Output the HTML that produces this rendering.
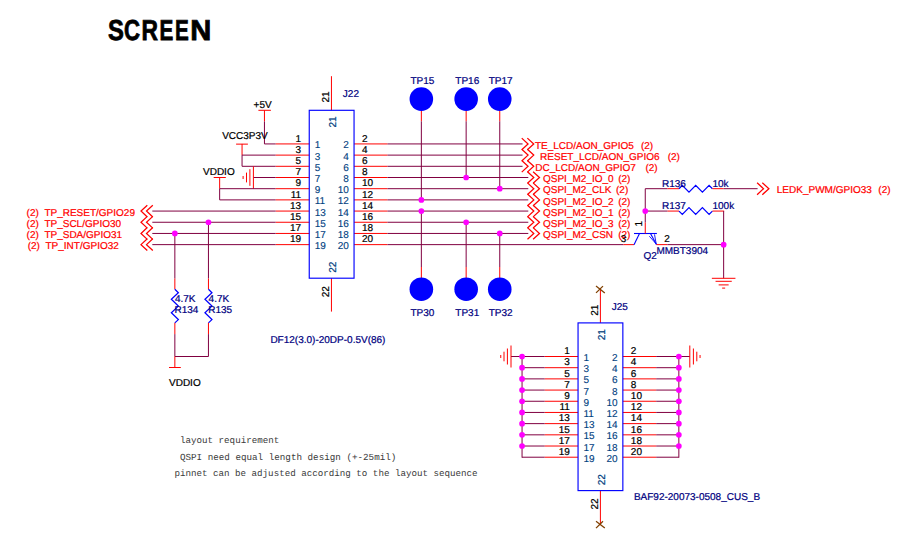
<!DOCTYPE html>
<html><head><meta charset="utf-8"><title>SCREEN schematic</title>
<style>
html,body{margin:0;padding:0;background:#fff;}
body{width:902px;height:549px;overflow:hidden;font-family:"Liberation Sans",sans-serif;}
svg{display:block;}
svg text{font-family:"Liberation Sans",sans-serif;font-size:10px;white-space:pre;text-rendering:geometricPrecision;}
</style></head>
<body>
<svg width="902" height="549" viewBox="0 0 902 549">
<rect width="902" height="549" fill="#ffffff"/>
<line x1="275.65" y1="143.93" x2="309.25" y2="143.93" stroke="#ff0000" stroke-width="1.0"/>
<line x1="275.65" y1="155.12" x2="309.25" y2="155.12" stroke="#ff0000" stroke-width="1.0"/>
<line x1="275.65" y1="166.31" x2="309.25" y2="166.31" stroke="#ff0000" stroke-width="1.0"/>
<line x1="275.65" y1="177.50" x2="309.25" y2="177.50" stroke="#ff0000" stroke-width="1.0"/>
<line x1="275.65" y1="188.69" x2="309.25" y2="188.69" stroke="#ff0000" stroke-width="1.0"/>
<line x1="275.65" y1="199.88" x2="309.25" y2="199.88" stroke="#ff0000" stroke-width="1.0"/>
<line x1="275.65" y1="211.07" x2="309.25" y2="211.07" stroke="#ff0000" stroke-width="1.0"/>
<line x1="275.65" y1="222.26" x2="309.25" y2="222.26" stroke="#ff0000" stroke-width="1.0"/>
<line x1="275.65" y1="233.45" x2="309.25" y2="233.45" stroke="#ff0000" stroke-width="1.0"/>
<line x1="275.65" y1="244.64" x2="309.25" y2="244.64" stroke="#ff0000" stroke-width="1.0"/>
<line x1="354.05" y1="143.93" x2="387.50" y2="143.93" stroke="#ff0000" stroke-width="1.0"/>
<line x1="354.05" y1="155.12" x2="387.50" y2="155.12" stroke="#ff0000" stroke-width="1.0"/>
<line x1="354.05" y1="166.31" x2="387.50" y2="166.31" stroke="#ff0000" stroke-width="1.0"/>
<line x1="354.05" y1="177.50" x2="387.50" y2="177.50" stroke="#ff0000" stroke-width="1.0"/>
<line x1="354.05" y1="188.69" x2="387.50" y2="188.69" stroke="#ff0000" stroke-width="1.0"/>
<line x1="354.05" y1="199.88" x2="387.50" y2="199.88" stroke="#ff0000" stroke-width="1.0"/>
<line x1="354.05" y1="211.07" x2="387.50" y2="211.07" stroke="#ff0000" stroke-width="1.0"/>
<line x1="354.05" y1="222.26" x2="387.50" y2="222.26" stroke="#ff0000" stroke-width="1.0"/>
<line x1="354.05" y1="233.45" x2="387.50" y2="233.45" stroke="#ff0000" stroke-width="1.0"/>
<line x1="354.05" y1="244.64" x2="387.50" y2="244.64" stroke="#ff0000" stroke-width="1.0"/>
<line x1="258.40" y1="110.30" x2="270.90" y2="110.30" stroke="#ff0000" stroke-width="1.0"/>
<line x1="264.45" y1="110.30" x2="264.45" y2="121.40" stroke="#ff0000" stroke-width="1.0"/>
<polyline points="264.45,121.40 264.45,143.93 275.65,143.93" fill="none" stroke="#800040" stroke-width="1.0" stroke-linejoin="miter"/>
<text x="253.60" y="107.70" fill="#000" stroke="#000" stroke-width="0.22" text-anchor="start" >+5V</text>
<line x1="236.10" y1="144.13" x2="247.90" y2="144.13" stroke="#ff0000" stroke-width="1.0"/>
<line x1="242.05" y1="143.93" x2="242.05" y2="155.12" stroke="#ff0000" stroke-width="1.0"/>
<line x1="242.05" y1="155.12" x2="242.05" y2="166.31" stroke="#800040" stroke-width="1.0"/>
<line x1="242.05" y1="155.12" x2="275.65" y2="155.12" stroke="#800040" stroke-width="1.0"/>
<line x1="242.05" y1="166.31" x2="275.65" y2="166.31" stroke="#800040" stroke-width="1.0"/>
<text x="222.20" y="139.40" fill="#000" stroke="#000" stroke-width="0.22" text-anchor="start" >VCC3P3V</text>
<line x1="253.40" y1="177.50" x2="275.65" y2="177.50" stroke="#800040" stroke-width="1.0"/>
<line x1="253.40" y1="166.40" x2="253.40" y2="188.60" stroke="#ff0000" stroke-width="1.0"/>
<line x1="249.90" y1="169.20" x2="249.90" y2="185.80" stroke="#ff0000" stroke-width="1.0"/>
<line x1="246.50" y1="172.60" x2="246.50" y2="182.40" stroke="#ff0000" stroke-width="1.0"/>
<line x1="243.10" y1="176.00" x2="243.10" y2="179.00" stroke="#ff0000" stroke-width="1.0"/>
<line x1="213.70" y1="177.50" x2="225.80" y2="177.50" stroke="#ff0000" stroke-width="1.0"/>
<line x1="219.65" y1="177.50" x2="219.65" y2="188.69" stroke="#ff0000" stroke-width="1.0"/>
<line x1="219.65" y1="188.69" x2="219.65" y2="199.88" stroke="#800040" stroke-width="1.0"/>
<line x1="219.65" y1="188.69" x2="275.65" y2="188.69" stroke="#800040" stroke-width="1.0"/>
<line x1="219.65" y1="199.88" x2="275.65" y2="199.88" stroke="#800040" stroke-width="1.0"/>
<text x="203.00" y="174.85" fill="#000" stroke="#000" stroke-width="0.22" text-anchor="start" >VDDIO</text>
<line x1="152.30" y1="211.07" x2="275.65" y2="211.07" stroke="#800040" stroke-width="1.0"/>
<polyline points="147.30,205.17 141.00,211.07 147.30,216.97" fill="none" stroke="#ff0000" stroke-width="1.25" stroke-linejoin="miter"/>
<polyline points="152.80,205.17 146.50,211.07 152.80,216.97" fill="none" stroke="#ff0000" stroke-width="1.25" stroke-linejoin="miter"/>
<text x="26.60" y="215.55" fill="#ff0000" stroke="#ff0000" stroke-width="0.22" text-anchor="start" >(2)</text>
<text x="44.38" y="215.55" fill="#ff0000" stroke="#ff0000" stroke-width="0.22" text-anchor="start" >TP_RESET/GPIO29</text>
<line x1="152.30" y1="222.26" x2="275.65" y2="222.26" stroke="#800040" stroke-width="1.0"/>
<polyline points="147.30,216.36 141.00,222.26 147.30,228.16" fill="none" stroke="#ff0000" stroke-width="1.25" stroke-linejoin="miter"/>
<polyline points="152.80,216.36 146.50,222.26 152.80,228.16" fill="none" stroke="#ff0000" stroke-width="1.25" stroke-linejoin="miter"/>
<text x="26.60" y="226.55" fill="#ff0000" stroke="#ff0000" stroke-width="0.22" text-anchor="start" >(2)</text>
<text x="44.38" y="226.55" fill="#ff0000" stroke="#ff0000" stroke-width="0.22" text-anchor="start" >TP_SCL/GPIO30</text>
<line x1="152.30" y1="233.45" x2="275.65" y2="233.45" stroke="#800040" stroke-width="1.0"/>
<polyline points="147.30,227.55 141.00,233.45 147.30,239.35" fill="none" stroke="#ff0000" stroke-width="1.25" stroke-linejoin="miter"/>
<polyline points="152.80,227.55 146.50,233.45 152.80,239.35" fill="none" stroke="#ff0000" stroke-width="1.25" stroke-linejoin="miter"/>
<text x="26.60" y="237.55" fill="#ff0000" stroke="#ff0000" stroke-width="0.22" text-anchor="start" >(2)</text>
<text x="44.38" y="237.55" fill="#ff0000" stroke="#ff0000" stroke-width="0.22" text-anchor="start" >TP_SDA/GPIO31</text>
<line x1="152.30" y1="244.64" x2="275.65" y2="244.64" stroke="#800040" stroke-width="1.0"/>
<polyline points="147.30,238.74 141.00,244.64 147.30,250.54" fill="none" stroke="#ff0000" stroke-width="1.25" stroke-linejoin="miter"/>
<polyline points="152.80,238.74 146.50,244.64 152.80,250.54" fill="none" stroke="#ff0000" stroke-width="1.25" stroke-linejoin="miter"/>
<text x="27.70" y="248.55" fill="#ff0000" stroke="#ff0000" stroke-width="0.22" text-anchor="start" >(2)</text>
<text x="45.48" y="248.55" fill="#ff0000" stroke="#ff0000" stroke-width="0.22" text-anchor="start" >TP_INT/GPIO32</text>
<line x1="174.85" y1="233.45" x2="174.85" y2="278.50" stroke="#800040" stroke-width="1.0"/>
<line x1="174.85" y1="278.50" x2="174.85" y2="289.30" stroke="#ff0000" stroke-width="1.0"/>
<polyline points="174.85,289.30 178.35,292.70 171.35,299.30 178.35,306.10 171.35,312.80 178.35,319.60 174.85,322.90" fill="none" stroke="#0000ff" stroke-width="1.25" stroke-linejoin="miter"/>
<line x1="174.85" y1="322.90" x2="174.85" y2="334.10" stroke="#ff0000" stroke-width="1.0"/>
<line x1="174.85" y1="334.10" x2="174.85" y2="356.50" stroke="#800040" stroke-width="1.0"/>
<line x1="208.45" y1="222.26" x2="208.45" y2="278.50" stroke="#800040" stroke-width="1.0"/>
<line x1="208.45" y1="278.50" x2="208.45" y2="289.30" stroke="#ff0000" stroke-width="1.0"/>
<polyline points="208.45,289.30 211.95,292.70 204.95,299.30 211.95,306.10 204.95,312.80 211.95,319.60 208.45,322.90" fill="none" stroke="#0000ff" stroke-width="1.25" stroke-linejoin="miter"/>
<line x1="208.45" y1="322.90" x2="208.45" y2="334.10" stroke="#ff0000" stroke-width="1.0"/>
<line x1="208.45" y1="334.10" x2="208.45" y2="356.50" stroke="#800040" stroke-width="1.0"/>
<line x1="174.85" y1="356.50" x2="208.45" y2="356.50" stroke="#800040" stroke-width="1.0"/>
<line x1="174.85" y1="356.50" x2="174.85" y2="367.50" stroke="#ff0000" stroke-width="1.0"/>
<line x1="169.00" y1="367.50" x2="180.80" y2="367.50" stroke="#ff0000" stroke-width="1.0"/>
<text x="169.00" y="386.00" fill="#000" stroke="#000" stroke-width="0.22" text-anchor="start" >VDDIO</text>
<text x="174.90" y="301.80" fill="#000080" stroke="#000080" stroke-width="0.22" text-anchor="start" >4.7K</text>
<text x="174.50" y="312.90" fill="#000080" stroke="#000080" stroke-width="0.22" text-anchor="start" >R134</text>
<text x="208.60" y="301.80" fill="#000080" stroke="#000080" stroke-width="0.22" text-anchor="start" >4.7K</text>
<text x="208.20" y="312.90" fill="#000080" stroke="#000080" stroke-width="0.22" text-anchor="start" >R135</text>
<line x1="387.50" y1="143.93" x2="522.55" y2="143.93" stroke="#800040" stroke-width="1.0"/>
<polyline points="521.75,138.13 528.05,143.93 521.75,149.73" fill="none" stroke="#ff0000" stroke-width="1.25" stroke-linejoin="miter"/>
<polyline points="527.35,138.13 533.75,143.93 527.35,149.73" fill="none" stroke="#ff0000" stroke-width="1.25" stroke-linejoin="miter"/>
<text x="534.90" y="148.55" fill="#ff0000" stroke="#ff0000" stroke-width="0.22" text-anchor="start" >TE_LCD/AON_GPIO5</text>
<text x="640.90" y="148.55" fill="#ff0000" stroke="#ff0000" stroke-width="0.22" text-anchor="start" >(2)</text>
<line x1="387.50" y1="155.12" x2="522.55" y2="155.12" stroke="#800040" stroke-width="1.0"/>
<polyline points="521.75,149.32 528.05,155.12 521.75,160.92" fill="none" stroke="#ff0000" stroke-width="1.25" stroke-linejoin="miter"/>
<polyline points="527.35,149.32 533.75,155.12 527.35,160.92" fill="none" stroke="#ff0000" stroke-width="1.25" stroke-linejoin="miter"/>
<text x="540.10" y="159.55" fill="#ff0000" stroke="#ff0000" stroke-width="0.22" text-anchor="start" >RESET_LCD/AON_GPIO6</text>
<text x="667.70" y="159.55" fill="#ff0000" stroke="#ff0000" stroke-width="0.22" text-anchor="start" >(2)</text>
<line x1="387.50" y1="166.31" x2="522.55" y2="166.31" stroke="#800040" stroke-width="1.0"/>
<polyline points="521.75,160.51 528.05,166.31 521.75,172.11" fill="none" stroke="#ff0000" stroke-width="1.25" stroke-linejoin="miter"/>
<polyline points="527.35,160.51 533.75,166.31 527.35,172.11" fill="none" stroke="#ff0000" stroke-width="1.25" stroke-linejoin="miter"/>
<text x="535.20" y="170.55" fill="#ff0000" stroke="#ff0000" stroke-width="0.22" text-anchor="start" >DC_LCD/AON_GPIO7</text>
<text x="645.40" y="170.55" fill="#ff0000" stroke="#ff0000" stroke-width="0.22" text-anchor="start" >(2)</text>
<line x1="387.50" y1="177.50" x2="528.30" y2="177.50" stroke="#800040" stroke-width="1.0"/>
<polyline points="527.50,171.70 533.80,177.50 527.50,183.30" fill="none" stroke="#ff0000" stroke-width="1.25" stroke-linejoin="miter"/>
<polyline points="533.10,171.70 539.50,177.50 533.10,183.30" fill="none" stroke="#ff0000" stroke-width="1.25" stroke-linejoin="miter"/>
<text x="543.00" y="181.55" fill="#ff0000" stroke="#ff0000" stroke-width="0.22" text-anchor="start" >QSPI_M2_IO_0</text>
<text x="618.20" y="181.55" fill="#ff0000" stroke="#ff0000" stroke-width="0.22" text-anchor="start" >(2)</text>
<line x1="387.50" y1="188.69" x2="528.30" y2="188.69" stroke="#800040" stroke-width="1.0"/>
<polyline points="527.50,182.89 533.80,188.69 527.50,194.49" fill="none" stroke="#ff0000" stroke-width="1.25" stroke-linejoin="miter"/>
<polyline points="533.10,182.89 539.50,188.69 533.10,194.49" fill="none" stroke="#ff0000" stroke-width="1.25" stroke-linejoin="miter"/>
<text x="543.00" y="192.55" fill="#ff0000" stroke="#ff0000" stroke-width="0.22" text-anchor="start" >QSPI_M2_CLK</text>
<text x="616.00" y="192.55" fill="#ff0000" stroke="#ff0000" stroke-width="0.22" text-anchor="start" >(2)</text>
<line x1="387.50" y1="199.88" x2="528.30" y2="199.88" stroke="#800040" stroke-width="1.0"/>
<polyline points="527.50,194.08 533.80,199.88 527.50,205.68" fill="none" stroke="#ff0000" stroke-width="1.25" stroke-linejoin="miter"/>
<polyline points="533.10,194.08 539.50,199.88 533.10,205.68" fill="none" stroke="#ff0000" stroke-width="1.25" stroke-linejoin="miter"/>
<text x="543.00" y="204.55" fill="#ff0000" stroke="#ff0000" stroke-width="0.22" text-anchor="start" >QSPI_M2_IO_2</text>
<text x="618.20" y="204.55" fill="#ff0000" stroke="#ff0000" stroke-width="0.22" text-anchor="start" >(2)</text>
<line x1="387.50" y1="211.07" x2="528.30" y2="211.07" stroke="#800040" stroke-width="1.0"/>
<polyline points="527.50,205.27 533.80,211.07 527.50,216.87" fill="none" stroke="#ff0000" stroke-width="1.25" stroke-linejoin="miter"/>
<polyline points="533.10,205.27 539.50,211.07 533.10,216.87" fill="none" stroke="#ff0000" stroke-width="1.25" stroke-linejoin="miter"/>
<text x="543.00" y="215.55" fill="#ff0000" stroke="#ff0000" stroke-width="0.22" text-anchor="start" >QSPI_M2_IO_1</text>
<text x="618.20" y="215.55" fill="#ff0000" stroke="#ff0000" stroke-width="0.22" text-anchor="start" >(2)</text>
<line x1="387.50" y1="222.26" x2="528.30" y2="222.26" stroke="#800040" stroke-width="1.0"/>
<polyline points="527.50,216.46 533.80,222.26 527.50,228.06" fill="none" stroke="#ff0000" stroke-width="1.25" stroke-linejoin="miter"/>
<polyline points="533.10,216.46 539.50,222.26 533.10,228.06" fill="none" stroke="#ff0000" stroke-width="1.25" stroke-linejoin="miter"/>
<text x="543.00" y="226.55" fill="#ff0000" stroke="#ff0000" stroke-width="0.22" text-anchor="start" >QSPI_M2_IO_3</text>
<text x="618.20" y="226.55" fill="#ff0000" stroke="#ff0000" stroke-width="0.22" text-anchor="start" >(2)</text>
<line x1="387.50" y1="233.45" x2="528.30" y2="233.45" stroke="#800040" stroke-width="1.0"/>
<polyline points="527.50,227.65 533.80,233.45 527.50,239.25" fill="none" stroke="#ff0000" stroke-width="1.25" stroke-linejoin="miter"/>
<polyline points="533.10,227.65 539.50,233.45 533.10,239.25" fill="none" stroke="#ff0000" stroke-width="1.25" stroke-linejoin="miter"/>
<text x="543.00" y="237.55" fill="#ff0000" stroke="#ff0000" stroke-width="0.22" text-anchor="start" >QSPI_M2_CSN</text>
<text x="618.20" y="237.55" fill="#ff0000" stroke="#ff0000" stroke-width="0.22" text-anchor="start" >(2)</text>
<line x1="421.35" y1="110.50" x2="421.35" y2="121.30" stroke="#ff0000" stroke-width="1.0"/>
<line x1="421.35" y1="121.30" x2="421.35" y2="199.88" stroke="#800040" stroke-width="1.0"/>
<line x1="421.35" y1="211.07" x2="421.35" y2="267.00" stroke="#800040" stroke-width="1.0"/>
<line x1="421.35" y1="267.00" x2="421.35" y2="278.00" stroke="#ff0000" stroke-width="1.0"/>
<circle cx="421.35" cy="99.1" r="11.8" fill="#0000ff"/>
<circle cx="421.35" cy="289.2" r="11.8" fill="#0000ff"/>
<text x="410.40" y="83.60" fill="#000080" stroke="#000080" stroke-width="0.22" text-anchor="start" >TP15</text>
<text x="410.40" y="315.80" fill="#000080" stroke="#000080" stroke-width="0.22" text-anchor="start" >TP30</text>
<line x1="466.15" y1="110.50" x2="466.15" y2="121.30" stroke="#ff0000" stroke-width="1.0"/>
<line x1="466.15" y1="121.30" x2="466.15" y2="177.50" stroke="#800040" stroke-width="1.0"/>
<line x1="466.15" y1="222.26" x2="466.15" y2="267.00" stroke="#800040" stroke-width="1.0"/>
<line x1="466.15" y1="267.00" x2="466.15" y2="278.00" stroke="#ff0000" stroke-width="1.0"/>
<circle cx="466.15" cy="99.1" r="11.8" fill="#0000ff"/>
<circle cx="466.15" cy="289.2" r="11.8" fill="#0000ff"/>
<text x="455.30" y="83.60" fill="#000080" stroke="#000080" stroke-width="0.22" text-anchor="start" >TP16</text>
<text x="455.30" y="315.80" fill="#000080" stroke="#000080" stroke-width="0.22" text-anchor="start" >TP31</text>
<line x1="499.75" y1="110.50" x2="499.75" y2="121.30" stroke="#ff0000" stroke-width="1.0"/>
<line x1="499.75" y1="121.30" x2="499.75" y2="188.69" stroke="#800040" stroke-width="1.0"/>
<line x1="499.75" y1="233.45" x2="499.75" y2="267.00" stroke="#800040" stroke-width="1.0"/>
<line x1="499.75" y1="267.00" x2="499.75" y2="278.00" stroke="#ff0000" stroke-width="1.0"/>
<circle cx="499.75" cy="99.1" r="11.8" fill="#0000ff"/>
<circle cx="499.75" cy="289.2" r="11.8" fill="#0000ff"/>
<text x="488.70" y="83.60" fill="#000080" stroke="#000080" stroke-width="0.22" text-anchor="start" >TP17</text>
<text x="488.70" y="315.80" fill="#000080" stroke="#000080" stroke-width="0.22" text-anchor="start" >TP32</text>
<line x1="387.50" y1="244.64" x2="623.50" y2="244.64" stroke="#800040" stroke-width="1.0"/>
<line x1="623.50" y1="244.64" x2="634.00" y2="244.64" stroke="#ff0000" stroke-width="1.0"/>
<line x1="634.00" y1="233.50" x2="656.90" y2="233.50" stroke="#0000ff" stroke-width="1.1"/>
<line x1="639.50" y1="233.50" x2="634.00" y2="244.64" stroke="#0000ff" stroke-width="1.1"/>
<line x1="650.50" y1="233.50" x2="656.50" y2="244.64" stroke="#0000ff" stroke-width="1.1"/>
<polyline points="649.30,236.20 656.20,243.90 654.50,234.40" fill="none" stroke="#0000ff" stroke-width="0.9" stroke-linejoin="miter"/>
<line x1="656.40" y1="244.64" x2="667.40" y2="244.64" stroke="#ff0000" stroke-width="1.0"/>
<line x1="667.40" y1="244.64" x2="723.65" y2="244.64" stroke="#800040" stroke-width="1.0"/>
<line x1="645.25" y1="222.40" x2="645.25" y2="233.50" stroke="#ff0000" stroke-width="1.0"/>
<polyline points="645.25,222.40 645.25,188.69 667.50,188.69" fill="none" stroke="#800040" stroke-width="1.0" stroke-linejoin="miter"/>
<line x1="645.25" y1="211.07" x2="667.50" y2="211.07" stroke="#800040" stroke-width="1.0"/>
<line x1="667.50" y1="188.69" x2="679.00" y2="188.69" stroke="#ff0000" stroke-width="1.0"/>
<polyline points="679.00,188.69 682.30,185.39 689.00,192.19 695.70,185.39 702.40,192.19 709.10,185.39 712.40,188.69" fill="none" stroke="#0000ff" stroke-width="1.25" stroke-linejoin="miter"/>
<line x1="712.40" y1="188.69" x2="723.65" y2="188.69" stroke="#ff0000" stroke-width="1.0"/>
<line x1="723.65" y1="188.69" x2="757.60" y2="188.69" stroke="#800040" stroke-width="1.0"/>
<polyline points="757.10,182.69 763.50,188.69 757.10,194.69" fill="none" stroke="#ff0000" stroke-width="1.25" stroke-linejoin="miter"/>
<polyline points="762.30,182.69 768.90,188.69 762.30,194.69" fill="none" stroke="#ff0000" stroke-width="1.25" stroke-linejoin="miter"/>
<text x="776.80" y="192.70" fill="#ff0000" stroke="#ff0000" stroke-width="0.22" text-anchor="start" >LEDK_PWM/GPIO33</text>
<text x="878.30" y="192.70" fill="#ff0000" stroke="#ff0000" stroke-width="0.22" text-anchor="start" >(2)</text>
<line x1="667.50" y1="211.07" x2="679.00" y2="211.07" stroke="#ff0000" stroke-width="1.0"/>
<polyline points="679.00,211.07 682.30,214.37 689.00,207.57 695.70,214.37 702.40,207.57 709.10,214.37 712.40,211.07" fill="none" stroke="#0000ff" stroke-width="1.25" stroke-linejoin="miter"/>
<line x1="712.40" y1="211.07" x2="724.15" y2="211.07" stroke="#ff0000" stroke-width="1.0"/>
<line x1="723.65" y1="211.07" x2="723.65" y2="278.30" stroke="#800040" stroke-width="1.0"/>
<line x1="711.85" y1="278.30" x2="735.45" y2="278.30" stroke="#ff0000" stroke-width="1.0"/>
<line x1="715.55" y1="281.30" x2="731.75" y2="281.30" stroke="#ff0000" stroke-width="1.0"/>
<line x1="718.65" y1="284.90" x2="728.65" y2="284.90" stroke="#ff0000" stroke-width="1.0"/>
<line x1="722.15" y1="288.10" x2="725.15" y2="288.10" stroke="#ff0000" stroke-width="1.0"/>
<text x="662.00" y="186.50" fill="#000080" stroke="#000080" stroke-width="0.22" text-anchor="start" >R136</text>
<text x="712.50" y="186.50" fill="#000080" stroke="#000080" stroke-width="0.22" text-anchor="start" >10k</text>
<text x="662.00" y="208.80" fill="#000080" stroke="#000080" stroke-width="0.22" text-anchor="start" >R137</text>
<text x="712.50" y="208.80" fill="#000080" stroke="#000080" stroke-width="0.22" text-anchor="start" >100k</text>
<text x="656.40" y="253.60" fill="#000080" stroke="#000080" stroke-width="0.22" text-anchor="start" >MMBT3904</text>
<text x="643.40" y="259.20" fill="#000080" stroke="#000080" stroke-width="0.22" text-anchor="start" >Q2</text>
<text transform="translate(642.40,226.50) rotate(-90)" fill="#000" stroke="#000" stroke-width="0.22">1</text>
<text x="620.70" y="241.50" fill="#000" stroke="#000" stroke-width="0.22" text-anchor="start" >3</text>
<text x="664.30" y="241.50" fill="#000" stroke="#000" stroke-width="0.22" text-anchor="start" >2</text>
<text x="301.05" y="141.55" fill="#000" stroke="#000" stroke-width="0.22" text-anchor="end" >1</text>
<text x="362.05" y="141.55" fill="#000" stroke="#000" stroke-width="0.22" text-anchor="start" >2</text>
<text x="314.75" y="147.55" fill="#004080" stroke="#004080" stroke-width="0.12" text-anchor="start" >1</text>
<text x="348.85" y="147.55" fill="#004080" stroke="#004080" stroke-width="0.12" text-anchor="end" >2</text>
<text x="301.05" y="152.55" fill="#000" stroke="#000" stroke-width="0.22" text-anchor="end" >3</text>
<text x="362.05" y="152.55" fill="#000" stroke="#000" stroke-width="0.22" text-anchor="start" >4</text>
<text x="314.75" y="159.55" fill="#004080" stroke="#004080" stroke-width="0.12" text-anchor="start" >3</text>
<text x="348.85" y="159.55" fill="#004080" stroke="#004080" stroke-width="0.12" text-anchor="end" >4</text>
<text x="301.05" y="163.55" fill="#000" stroke="#000" stroke-width="0.22" text-anchor="end" >5</text>
<text x="362.05" y="163.55" fill="#000" stroke="#000" stroke-width="0.22" text-anchor="start" >6</text>
<text x="314.75" y="170.55" fill="#004080" stroke="#004080" stroke-width="0.12" text-anchor="start" >5</text>
<text x="348.85" y="170.55" fill="#004080" stroke="#004080" stroke-width="0.12" text-anchor="end" >6</text>
<text x="301.05" y="174.55" fill="#000" stroke="#000" stroke-width="0.22" text-anchor="end" >7</text>
<text x="362.05" y="174.55" fill="#000" stroke="#000" stroke-width="0.22" text-anchor="start" >8</text>
<text x="314.75" y="181.55" fill="#004080" stroke="#004080" stroke-width="0.12" text-anchor="start" >7</text>
<text x="348.85" y="181.55" fill="#004080" stroke="#004080" stroke-width="0.12" text-anchor="end" >8</text>
<text x="301.05" y="185.55" fill="#000" stroke="#000" stroke-width="0.22" text-anchor="end" >9</text>
<text x="362.05" y="185.55" fill="#000" stroke="#000" stroke-width="0.22" text-anchor="start" >10</text>
<text x="314.75" y="192.55" fill="#004080" stroke="#004080" stroke-width="0.12" text-anchor="start" >9</text>
<text x="348.85" y="192.55" fill="#004080" stroke="#004080" stroke-width="0.12" text-anchor="end" >10</text>
<text x="301.05" y="197.55" fill="#000" stroke="#000" stroke-width="0.22" text-anchor="end" >11</text>
<text x="362.05" y="197.55" fill="#000" stroke="#000" stroke-width="0.22" text-anchor="start" >12</text>
<text x="314.75" y="203.55" fill="#004080" stroke="#004080" stroke-width="0.12" text-anchor="start" >11</text>
<text x="348.85" y="203.55" fill="#004080" stroke="#004080" stroke-width="0.12" text-anchor="end" >12</text>
<text x="301.05" y="208.55" fill="#000" stroke="#000" stroke-width="0.22" text-anchor="end" >13</text>
<text x="362.05" y="208.55" fill="#000" stroke="#000" stroke-width="0.22" text-anchor="start" >14</text>
<text x="314.75" y="215.55" fill="#004080" stroke="#004080" stroke-width="0.12" text-anchor="start" >13</text>
<text x="348.85" y="215.55" fill="#004080" stroke="#004080" stroke-width="0.12" text-anchor="end" >14</text>
<text x="301.05" y="219.55" fill="#000" stroke="#000" stroke-width="0.22" text-anchor="end" >15</text>
<text x="362.05" y="219.55" fill="#000" stroke="#000" stroke-width="0.22" text-anchor="start" >16</text>
<text x="314.75" y="226.55" fill="#004080" stroke="#004080" stroke-width="0.12" text-anchor="start" >15</text>
<text x="348.85" y="226.55" fill="#004080" stroke="#004080" stroke-width="0.12" text-anchor="end" >16</text>
<text x="301.05" y="230.55" fill="#000" stroke="#000" stroke-width="0.22" text-anchor="end" >17</text>
<text x="362.05" y="230.55" fill="#000" stroke="#000" stroke-width="0.22" text-anchor="start" >18</text>
<text x="314.75" y="237.55" fill="#004080" stroke="#004080" stroke-width="0.12" text-anchor="start" >17</text>
<text x="348.85" y="237.55" fill="#004080" stroke="#004080" stroke-width="0.12" text-anchor="end" >18</text>
<text x="301.05" y="241.55" fill="#000" stroke="#000" stroke-width="0.22" text-anchor="end" >19</text>
<text x="362.05" y="241.55" fill="#000" stroke="#000" stroke-width="0.22" text-anchor="start" >20</text>
<text x="314.75" y="248.55" fill="#004080" stroke="#004080" stroke-width="0.12" text-anchor="start" >19</text>
<text x="348.85" y="248.55" fill="#004080" stroke="#004080" stroke-width="0.12" text-anchor="end" >20</text>
<line x1="331.45" y1="76.20" x2="331.45" y2="110.30" stroke="#ff0000" stroke-width="1.0"/>
<line x1="331.45" y1="278.20" x2="331.45" y2="311.60" stroke="#ff0000" stroke-width="1.0"/>
<rect x="309.25" y="110.30" width="44.80" height="167.90" fill="none" stroke="#0000ff" stroke-width="1.15"/>
<text transform="translate(329.45,102.60) rotate(-90)" fill="#000" stroke="#000" stroke-width="0.22">21</text>
<text transform="translate(336.45,127.60) rotate(-90)" fill="#004080" stroke="#004080" stroke-width="0.22">21</text>
<text transform="translate(336.45,272.80) rotate(-90)" fill="#004080" stroke="#004080" stroke-width="0.22">22</text>
<text transform="translate(329.45,297.20) rotate(-90)" fill="#000" stroke="#000" stroke-width="0.22">22</text>
<text x="342.85" y="97.00" fill="#000080" stroke="#000080" stroke-width="0.22" text-anchor="start" >J22</text>
<text x="270.40" y="342.60" fill="#000080" stroke="#000080" stroke-width="0.22" text-anchor="start" >DF12(3.0)-20DP-0.5V(86)</text>
<line x1="544.70" y1="356.50" x2="578.05" y2="356.50" stroke="#ff0000" stroke-width="1.0"/>
<line x1="522.05" y1="356.50" x2="544.70" y2="356.50" stroke="#800040" stroke-width="1.0"/>
<line x1="622.85" y1="356.50" x2="656.20" y2="356.50" stroke="#ff0000" stroke-width="1.0"/>
<line x1="656.20" y1="356.50" x2="678.85" y2="356.50" stroke="#800040" stroke-width="1.0"/>
<line x1="544.70" y1="367.69" x2="578.05" y2="367.69" stroke="#ff0000" stroke-width="1.0"/>
<line x1="522.05" y1="367.69" x2="544.70" y2="367.69" stroke="#800040" stroke-width="1.0"/>
<line x1="622.85" y1="367.69" x2="656.20" y2="367.69" stroke="#ff0000" stroke-width="1.0"/>
<line x1="656.20" y1="367.69" x2="678.85" y2="367.69" stroke="#800040" stroke-width="1.0"/>
<line x1="544.70" y1="378.88" x2="578.05" y2="378.88" stroke="#ff0000" stroke-width="1.0"/>
<line x1="522.05" y1="378.88" x2="544.70" y2="378.88" stroke="#800040" stroke-width="1.0"/>
<line x1="622.85" y1="378.88" x2="656.20" y2="378.88" stroke="#ff0000" stroke-width="1.0"/>
<line x1="656.20" y1="378.88" x2="678.85" y2="378.88" stroke="#800040" stroke-width="1.0"/>
<line x1="544.70" y1="390.07" x2="578.05" y2="390.07" stroke="#ff0000" stroke-width="1.0"/>
<line x1="522.05" y1="390.07" x2="544.70" y2="390.07" stroke="#800040" stroke-width="1.0"/>
<line x1="622.85" y1="390.07" x2="656.20" y2="390.07" stroke="#ff0000" stroke-width="1.0"/>
<line x1="656.20" y1="390.07" x2="678.85" y2="390.07" stroke="#800040" stroke-width="1.0"/>
<line x1="544.70" y1="401.26" x2="578.05" y2="401.26" stroke="#ff0000" stroke-width="1.0"/>
<line x1="522.05" y1="401.26" x2="544.70" y2="401.26" stroke="#800040" stroke-width="1.0"/>
<line x1="622.85" y1="401.26" x2="656.20" y2="401.26" stroke="#ff0000" stroke-width="1.0"/>
<line x1="656.20" y1="401.26" x2="678.85" y2="401.26" stroke="#800040" stroke-width="1.0"/>
<line x1="544.70" y1="412.45" x2="578.05" y2="412.45" stroke="#ff0000" stroke-width="1.0"/>
<line x1="522.05" y1="412.45" x2="544.70" y2="412.45" stroke="#800040" stroke-width="1.0"/>
<line x1="622.85" y1="412.45" x2="656.20" y2="412.45" stroke="#ff0000" stroke-width="1.0"/>
<line x1="656.20" y1="412.45" x2="678.85" y2="412.45" stroke="#800040" stroke-width="1.0"/>
<line x1="544.70" y1="423.64" x2="578.05" y2="423.64" stroke="#ff0000" stroke-width="1.0"/>
<line x1="522.05" y1="423.64" x2="544.70" y2="423.64" stroke="#800040" stroke-width="1.0"/>
<line x1="622.85" y1="423.64" x2="656.20" y2="423.64" stroke="#ff0000" stroke-width="1.0"/>
<line x1="656.20" y1="423.64" x2="678.85" y2="423.64" stroke="#800040" stroke-width="1.0"/>
<line x1="544.70" y1="434.83" x2="578.05" y2="434.83" stroke="#ff0000" stroke-width="1.0"/>
<line x1="522.05" y1="434.83" x2="544.70" y2="434.83" stroke="#800040" stroke-width="1.0"/>
<line x1="622.85" y1="434.83" x2="656.20" y2="434.83" stroke="#ff0000" stroke-width="1.0"/>
<line x1="656.20" y1="434.83" x2="678.85" y2="434.83" stroke="#800040" stroke-width="1.0"/>
<line x1="544.70" y1="446.02" x2="578.05" y2="446.02" stroke="#ff0000" stroke-width="1.0"/>
<line x1="522.05" y1="446.02" x2="544.70" y2="446.02" stroke="#800040" stroke-width="1.0"/>
<line x1="622.85" y1="446.02" x2="656.20" y2="446.02" stroke="#ff0000" stroke-width="1.0"/>
<line x1="656.20" y1="446.02" x2="678.85" y2="446.02" stroke="#800040" stroke-width="1.0"/>
<line x1="544.70" y1="457.21" x2="578.05" y2="457.21" stroke="#ff0000" stroke-width="1.0"/>
<line x1="522.05" y1="457.21" x2="544.70" y2="457.21" stroke="#800040" stroke-width="1.0"/>
<line x1="622.85" y1="457.21" x2="656.20" y2="457.21" stroke="#ff0000" stroke-width="1.0"/>
<line x1="656.20" y1="457.21" x2="678.85" y2="457.21" stroke="#800040" stroke-width="1.0"/>
<line x1="522.05" y1="356.50" x2="522.05" y2="457.71" stroke="#800040" stroke-width="1.0"/>
<line x1="678.85" y1="356.50" x2="678.85" y2="457.71" stroke="#800040" stroke-width="1.0"/>
<line x1="522.05" y1="356.50" x2="511.00" y2="356.50" stroke="#800040" stroke-width="1.0"/>
<line x1="678.85" y1="356.50" x2="689.80" y2="356.50" stroke="#800040" stroke-width="1.0"/>
<line x1="511.00" y1="345.50" x2="511.00" y2="367.50" stroke="#ff0000" stroke-width="1.0"/>
<line x1="689.80" y1="345.50" x2="689.80" y2="367.50" stroke="#ff0000" stroke-width="1.0"/>
<line x1="507.40" y1="348.50" x2="507.40" y2="364.50" stroke="#ff0000" stroke-width="1.0"/>
<line x1="693.40" y1="348.50" x2="693.40" y2="364.50" stroke="#ff0000" stroke-width="1.0"/>
<line x1="504.00" y1="351.70" x2="504.00" y2="361.30" stroke="#ff0000" stroke-width="1.0"/>
<line x1="696.80" y1="351.70" x2="696.80" y2="361.30" stroke="#ff0000" stroke-width="1.0"/>
<line x1="500.75" y1="355.00" x2="500.75" y2="358.00" stroke="#ff0000" stroke-width="1.0"/>
<line x1="700.05" y1="355.00" x2="700.05" y2="358.00" stroke="#ff0000" stroke-width="1.0"/>
<text x="569.85" y="353.55" fill="#000" stroke="#000" stroke-width="0.22" text-anchor="end" >1</text>
<text x="630.85" y="353.55" fill="#000" stroke="#000" stroke-width="0.22" text-anchor="start" >2</text>
<text x="583.55" y="360.55" fill="#004080" stroke="#004080" stroke-width="0.12" text-anchor="start" >1</text>
<text x="617.65" y="360.55" fill="#004080" stroke="#004080" stroke-width="0.12" text-anchor="end" >2</text>
<text x="569.85" y="364.55" fill="#000" stroke="#000" stroke-width="0.22" text-anchor="end" >3</text>
<text x="630.85" y="364.55" fill="#000" stroke="#000" stroke-width="0.22" text-anchor="start" >4</text>
<text x="583.55" y="371.55" fill="#004080" stroke="#004080" stroke-width="0.12" text-anchor="start" >3</text>
<text x="617.65" y="371.55" fill="#004080" stroke="#004080" stroke-width="0.12" text-anchor="end" >4</text>
<text x="569.85" y="376.55" fill="#000" stroke="#000" stroke-width="0.22" text-anchor="end" >5</text>
<text x="630.85" y="376.55" fill="#000" stroke="#000" stroke-width="0.22" text-anchor="start" >6</text>
<text x="583.55" y="382.55" fill="#004080" stroke="#004080" stroke-width="0.12" text-anchor="start" >5</text>
<text x="617.65" y="382.55" fill="#004080" stroke="#004080" stroke-width="0.12" text-anchor="end" >6</text>
<text x="569.85" y="387.55" fill="#000" stroke="#000" stroke-width="0.22" text-anchor="end" >7</text>
<text x="630.85" y="387.55" fill="#000" stroke="#000" stroke-width="0.22" text-anchor="start" >8</text>
<text x="583.55" y="394.55" fill="#004080" stroke="#004080" stroke-width="0.12" text-anchor="start" >7</text>
<text x="617.65" y="394.55" fill="#004080" stroke="#004080" stroke-width="0.12" text-anchor="end" >8</text>
<text x="569.85" y="398.55" fill="#000" stroke="#000" stroke-width="0.22" text-anchor="end" >9</text>
<text x="630.85" y="398.55" fill="#000" stroke="#000" stroke-width="0.22" text-anchor="start" >10</text>
<text x="583.55" y="405.55" fill="#004080" stroke="#004080" stroke-width="0.12" text-anchor="start" >9</text>
<text x="617.65" y="405.55" fill="#004080" stroke="#004080" stroke-width="0.12" text-anchor="end" >10</text>
<text x="569.85" y="409.55" fill="#000" stroke="#000" stroke-width="0.22" text-anchor="end" >11</text>
<text x="630.85" y="409.55" fill="#000" stroke="#000" stroke-width="0.22" text-anchor="start" >12</text>
<text x="583.55" y="416.55" fill="#004080" stroke="#004080" stroke-width="0.12" text-anchor="start" >11</text>
<text x="617.65" y="416.55" fill="#004080" stroke="#004080" stroke-width="0.12" text-anchor="end" >12</text>
<text x="569.85" y="420.55" fill="#000" stroke="#000" stroke-width="0.22" text-anchor="end" >13</text>
<text x="630.85" y="420.55" fill="#000" stroke="#000" stroke-width="0.22" text-anchor="start" >14</text>
<text x="583.55" y="427.55" fill="#004080" stroke="#004080" stroke-width="0.12" text-anchor="start" >13</text>
<text x="617.65" y="427.55" fill="#004080" stroke="#004080" stroke-width="0.12" text-anchor="end" >14</text>
<text x="569.85" y="432.55" fill="#000" stroke="#000" stroke-width="0.22" text-anchor="end" >15</text>
<text x="630.85" y="432.55" fill="#000" stroke="#000" stroke-width="0.22" text-anchor="start" >16</text>
<text x="583.55" y="438.55" fill="#004080" stroke="#004080" stroke-width="0.12" text-anchor="start" >15</text>
<text x="617.65" y="438.55" fill="#004080" stroke="#004080" stroke-width="0.12" text-anchor="end" >16</text>
<text x="569.85" y="443.55" fill="#000" stroke="#000" stroke-width="0.22" text-anchor="end" >17</text>
<text x="630.85" y="443.55" fill="#000" stroke="#000" stroke-width="0.22" text-anchor="start" >18</text>
<text x="583.55" y="450.55" fill="#004080" stroke="#004080" stroke-width="0.12" text-anchor="start" >17</text>
<text x="617.65" y="450.55" fill="#004080" stroke="#004080" stroke-width="0.12" text-anchor="end" >18</text>
<text x="569.85" y="454.55" fill="#000" stroke="#000" stroke-width="0.22" text-anchor="end" >19</text>
<text x="630.85" y="454.55" fill="#000" stroke="#000" stroke-width="0.22" text-anchor="start" >20</text>
<text x="583.55" y="461.55" fill="#004080" stroke="#004080" stroke-width="0.12" text-anchor="start" >19</text>
<text x="617.65" y="461.55" fill="#004080" stroke="#004080" stroke-width="0.12" text-anchor="end" >20</text>
<line x1="600.40" y1="289.50" x2="600.40" y2="322.90" stroke="#ff0000" stroke-width="1.0"/>
<line x1="600.40" y1="490.60" x2="600.40" y2="524.70" stroke="#ff0000" stroke-width="1.0"/>
<rect x="578.05" y="322.90" width="44.80" height="167.70" fill="none" stroke="#0000ff" stroke-width="1.15"/>
<text transform="translate(598.40,315.80) rotate(-90)" fill="#000" stroke="#000" stroke-width="0.22">21</text>
<text transform="translate(605.40,340.20) rotate(-90)" fill="#004080" stroke="#004080" stroke-width="0.22">21</text>
<text transform="translate(605.40,485.20) rotate(-90)" fill="#004080" stroke="#004080" stroke-width="0.22">22</text>
<text transform="translate(598.40,509.60) rotate(-90)" fill="#000" stroke="#000" stroke-width="0.22">22</text>
<text x="611.65" y="309.60" fill="#000080" stroke="#000080" stroke-width="0.22" text-anchor="start" >J25</text>
<line x1="596.00" y1="286.10" x2="604.80" y2="292.90" stroke="#804000" stroke-width="1.3"/>
<line x1="603.00" y1="286.10" x2="596.00" y2="292.90" stroke="#804000" stroke-width="1.3"/>
<line x1="596.00" y1="521.30" x2="604.80" y2="528.10" stroke="#804000" stroke-width="1.3"/>
<line x1="603.00" y1="521.30" x2="596.00" y2="528.10" stroke="#804000" stroke-width="1.3"/>
<text x="633.90" y="499.60" fill="#000080" stroke="#000080" stroke-width="0.22" text-anchor="start" >BAF92-20073-0508_CUS_B</text>
<circle cx="174.85" cy="233.45" r="2.85" fill="#ff00ff"/>
<circle cx="208.45" cy="222.26" r="2.85" fill="#ff00ff"/>
<circle cx="421.35" cy="199.88" r="2.85" fill="#ff00ff"/>
<circle cx="421.35" cy="211.07" r="2.85" fill="#ff00ff"/>
<circle cx="466.15" cy="177.50" r="2.85" fill="#ff00ff"/>
<circle cx="466.15" cy="222.26" r="2.85" fill="#ff00ff"/>
<circle cx="499.75" cy="188.69" r="2.85" fill="#ff00ff"/>
<circle cx="499.75" cy="233.45" r="2.85" fill="#ff00ff"/>
<circle cx="723.65" cy="244.64" r="2.85" fill="#ff00ff"/>
<circle cx="645.25" cy="211.07" r="2.85" fill="#ff00ff"/>
<circle cx="522.05" cy="356.50" r="2.85" fill="#ff00ff"/>
<circle cx="678.85" cy="356.50" r="2.85" fill="#ff00ff"/>
<circle cx="522.05" cy="367.69" r="2.85" fill="#ff00ff"/>
<circle cx="678.85" cy="367.69" r="2.85" fill="#ff00ff"/>
<circle cx="522.05" cy="378.88" r="2.85" fill="#ff00ff"/>
<circle cx="678.85" cy="378.88" r="2.85" fill="#ff00ff"/>
<circle cx="522.05" cy="390.07" r="2.85" fill="#ff00ff"/>
<circle cx="678.85" cy="390.07" r="2.85" fill="#ff00ff"/>
<circle cx="522.05" cy="401.26" r="2.85" fill="#ff00ff"/>
<circle cx="678.85" cy="401.26" r="2.85" fill="#ff00ff"/>
<circle cx="522.05" cy="412.45" r="2.85" fill="#ff00ff"/>
<circle cx="678.85" cy="412.45" r="2.85" fill="#ff00ff"/>
<circle cx="522.05" cy="423.64" r="2.85" fill="#ff00ff"/>
<circle cx="678.85" cy="423.64" r="2.85" fill="#ff00ff"/>
<circle cx="522.05" cy="434.83" r="2.85" fill="#ff00ff"/>
<circle cx="678.85" cy="434.83" r="2.85" fill="#ff00ff"/>
<circle cx="522.05" cy="446.02" r="2.85" fill="#ff00ff"/>
<circle cx="678.85" cy="446.02" r="2.85" fill="#ff00ff"/>
<text x="180.00" y="442.80" fill="#3a3a3a"  text-anchor="start" style="font-family:'Liberation Mono',monospace;font-size:9.2px">layout requirement</text>
<text x="179.90" y="459.80" fill="#3a3a3a"  text-anchor="start" style="font-family:'Liberation Mono',monospace;font-size:9.25px">QSPI need equal length design (+-25mil)</text>
<text x="174.40" y="475.80" fill="#3a3a3a"  text-anchor="start" style="font-family:'Liberation Mono',monospace;font-size:9.2px">pinnet can be adjusted according to the layout sequence</text>
<text transform="translate(107.96,39.6) scale(0.8230,1)" style="font-size:28.9px;font-weight:bold" fill="#000" stroke="#000" stroke-width="0.8">S</text>
<text transform="translate(124.09,39.6) scale(0.7674,1)" style="font-size:28.9px;font-weight:bold" fill="#000" stroke="#000" stroke-width="0.8">C</text>
<text transform="translate(141.47,39.6) scale(0.7904,1)" style="font-size:28.9px;font-weight:bold" fill="#000" stroke="#000" stroke-width="0.8">R</text>
<text transform="translate(159.52,39.6) scale(0.7154,1)" style="font-size:28.9px;font-weight:bold" fill="#000" stroke="#000" stroke-width="0.8">E</text>
<text transform="translate(175.12,39.6) scale(0.7154,1)" style="font-size:28.9px;font-weight:bold" fill="#000" stroke="#000" stroke-width="0.8">E</text>
<text transform="translate(190.25,39.6) scale(1.0094,1)" style="font-size:28.9px;font-weight:bold" fill="#000" stroke="#000" stroke-width="0.8">N</text>
</svg>
</body></html>
